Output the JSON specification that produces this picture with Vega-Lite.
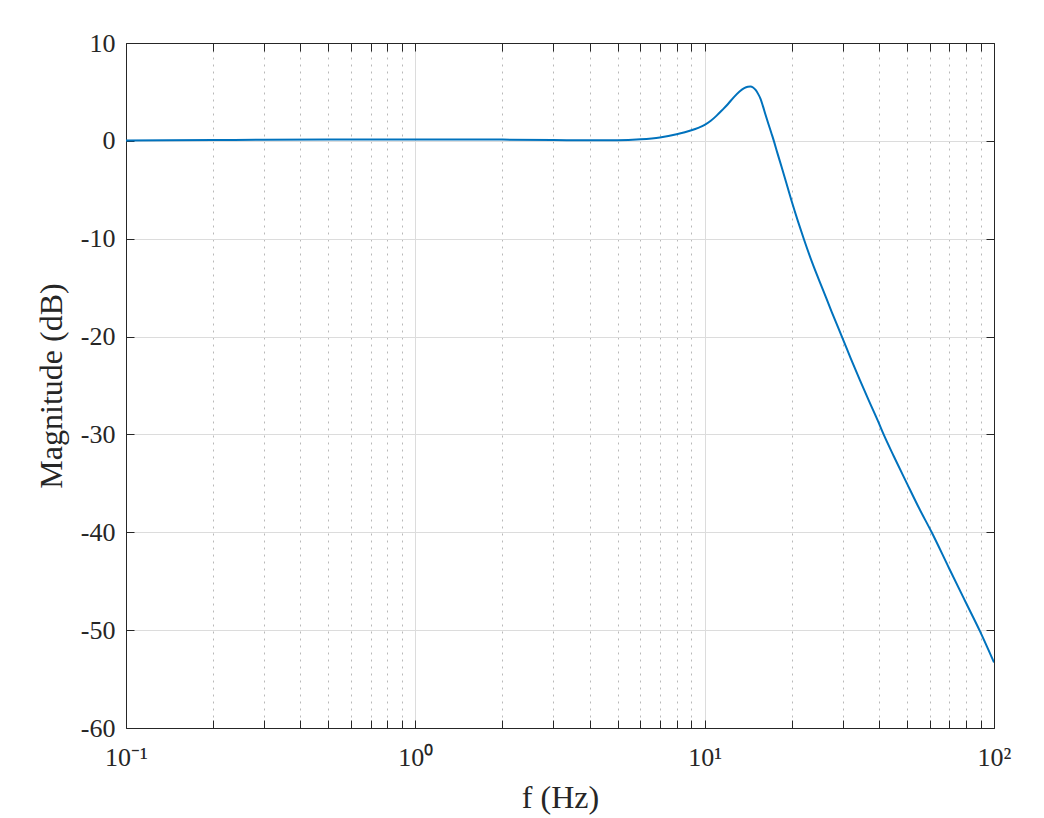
{
  "$schema": "https://vega.github.io/schema/vega-lite/v6.json",
  "width": 868,
  "height": 685,
  "autosize": {"type": "none"},
  "padding": {"left": 126, "top": 43, "right": 50, "bottom": 90},
  "background": "white",
  "config": {
    "view": {"stroke": null},
    "axis": {
      "labelFont": "Liberation Serif",
      "titleFont": "Liberation Serif",
      "labelFontSize": 26,
      "titleFontSize": 32,
      "labelColor": "#262626",
      "titleColor": "#262626",
      "titleFontWeight": "normal",
      "domainColor": "#262626",
      "domainWidth": 1,
      "tickColor": "#262626",
      "tickSize": -8,
      "labelOverlap": false,
      "labelBound": false,
      "labelFlush": false
    }
  },
  "data": {
    "values": [
      {"f": 0.1, "dB": 0.04},
      {"f": 0.2, "dB": 0.08},
      {"f": 0.3, "dB": 0.11},
      {"f": 0.5, "dB": 0.13},
      {"f": 1, "dB": 0.14},
      {"f": 1.5, "dB": 0.14},
      {"f": 2, "dB": 0.13},
      {"f": 3, "dB": 0.09},
      {"f": 4, "dB": 0.05},
      {"f": 5, "dB": 0.06},
      {"f": 6, "dB": 0.16},
      {"f": 7, "dB": 0.35},
      {"f": 8, "dB": 0.67},
      {"f": 9, "dB": 1.08},
      {"f": 9.5, "dB": 1.33},
      {"f": 10, "dB": 1.63},
      {"f": 10.5, "dB": 2.05},
      {"f": 11, "dB": 2.58},
      {"f": 11.5, "dB": 3.15},
      {"f": 12, "dB": 3.72},
      {"f": 12.6, "dB": 4.45},
      {"f": 13.2, "dB": 5.05},
      {"f": 13.7, "dB": 5.4},
      {"f": 14.1, "dB": 5.53},
      {"f": 14.4, "dB": 5.55},
      {"f": 14.7, "dB": 5.45},
      {"f": 15.0, "dB": 5.2},
      {"f": 15.3, "dB": 4.8},
      {"f": 15.6, "dB": 4.3},
      {"f": 15.9, "dB": 3.55},
      {"f": 16.2, "dB": 2.75},
      {"f": 16.6, "dB": 1.75},
      {"f": 17.0, "dB": 0.8},
      {"f": 17.3, "dB": 0.1},
      {"f": 17.8, "dB": -1.15},
      {"f": 18.46, "dB": -2.7},
      {"f": 19.2, "dB": -4.4},
      {"f": 20, "dB": -6.2},
      {"f": 21, "dB": -8.2},
      {"f": 22, "dB": -10},
      {"f": 23.5, "dB": -12.4},
      {"f": 25.7, "dB": -15.3},
      {"f": 27.5, "dB": -17.5},
      {"f": 29.8, "dB": -20},
      {"f": 32, "dB": -22.25},
      {"f": 34.4, "dB": -24.45},
      {"f": 37, "dB": -26.6},
      {"f": 39.8, "dB": -28.7},
      {"f": 41.4, "dB": -29.9},
      {"f": 45, "dB": -32.2},
      {"f": 50, "dB": -35},
      {"f": 55, "dB": -37.5},
      {"f": 60.9, "dB": -40},
      {"f": 70, "dB": -43.7},
      {"f": 80, "dB": -47.2},
      {"f": 89.4, "dB": -50.1},
      {"f": 100, "dB": -53.3}
    ]
  },
  "resolve": {"axis": {"x": "independent", "y": "independent"}},
  "layer": [
    {
      "mark": {"type": "line", "color": "#0072BD", "strokeWidth": 2, "interpolate": "monotone", "clip": true},
      "encoding": {
        "x": {
          "field": "f", "type": "quantitative",
          "scale": {"type": "log", "domain": [0.1, 100], "nice": false},
          "axis": {
            "title": "f (Hz)",
            "titlePadding": 12,
            "values": [0.1,0.2,0.3,0.4,0.5,0.6,0.7,0.8,0.9,1,2,3,4,5,6,7,8,9,10,20,30,40,50,60,70,80,90,100],
            "labelExpr": "datum.value == 0.1 ? '10⁻¹' : datum.value == 1 ? '10⁰' : datum.value == 10 ? '10¹' : datum.value == 100 ? '10²' : ''",
            "labelPadding": 24,
            "grid": true,
            "gridColor": {"condition": {"test": "datum.value == 0.1 || datum.value == 1 || datum.value == 10 || datum.value == 100", "value": "#dcdcdc"}, "value": "#b8b8b8"},
            "gridDash": {"condition": {"test": "datum.value == 0.1 || datum.value == 1 || datum.value == 10 || datum.value == 100", "value": []}, "value": [2, 5]},
            "gridWidth": 1
          }
        },
        "y": {
          "field": "dB", "type": "quantitative",
          "scale": {"domain": [-60, 10], "nice": false, "zero": false},
          "axis": {
            "title": "Magnitude (dB)",
            "titlePadding": 12,
            "values": [-60,-50,-40,-30,-20,-10,0,10],
            "labelExpr": "'' + datum.value",
            "labelPadding": 19,
            "grid": true,
            "gridColor": "#dcdcdc",
            "gridWidth": 1
          }
        }
      }
    },
    {
      "mark": {"type": "line", "opacity": 0},
      "encoding": {
        "x": {
          "field": "f", "type": "quantitative",
          "scale": {"type": "log", "domain": [0.1, 100], "nice": false},
          "axis": {"orient": "top", "title": null, "labels": false, "grid": false,
            "values": [0.1,0.2,0.3,0.4,0.5,0.6,0.7,0.8,0.9,1,2,3,4,5,6,7,8,9,10,20,30,40,50,60,70,80,90,100]}
        },
        "y": {
          "field": "dB", "type": "quantitative",
          "scale": {"domain": [-60, 10], "nice": false, "zero": false},
          "axis": {"orient": "right", "title": null, "labels": false, "grid": false,
            "values": [-60,-50,-40,-30,-20,-10,0,10]}
        }
      }
    }
  ]
}
